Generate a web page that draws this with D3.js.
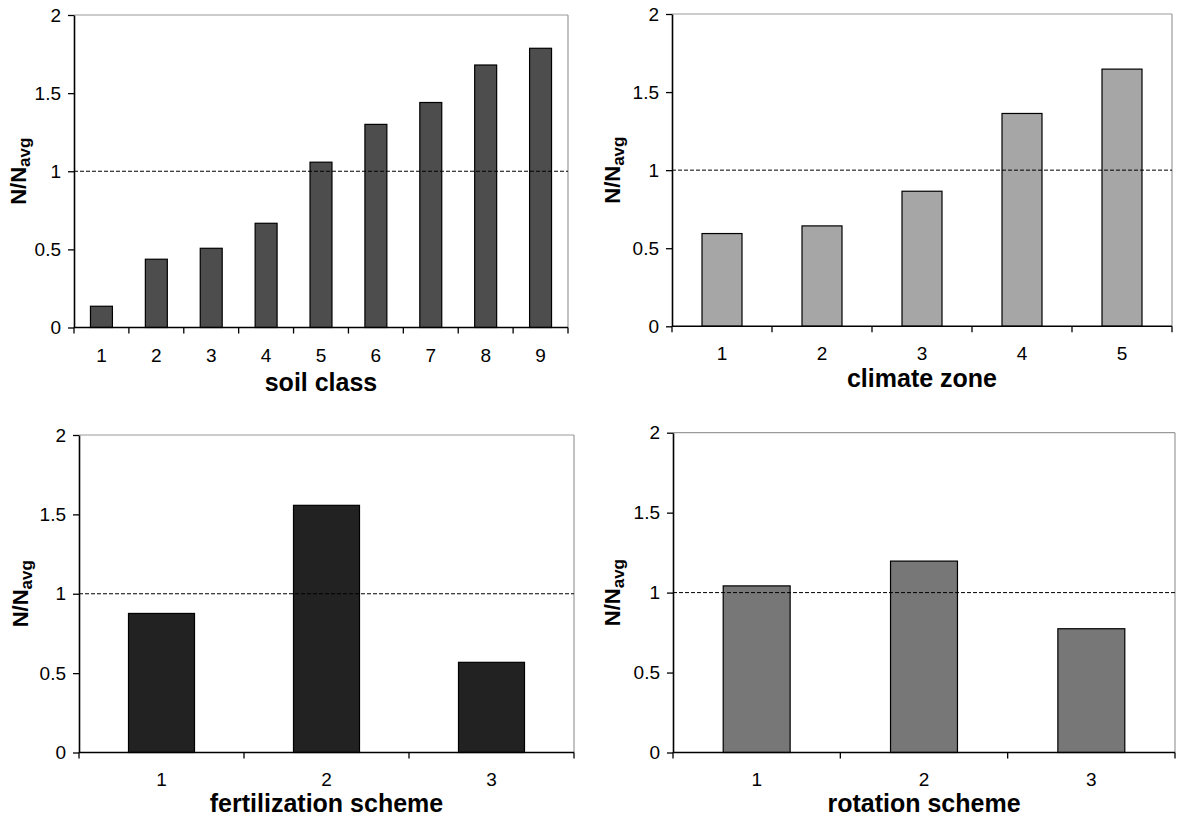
<!DOCTYPE html>
<html>
<head>
<meta charset="utf-8">
<script src="https://cdn.jsdelivr.net/npm/d3@7/dist/d3.min.js"></script>
<style>
  html, body { margin: 0; padding: 0; background: #fff; }
  svg { display: block; font-family: "Liberation Sans", Arial, sans-serif; }
</style>
</head>
<body>
<svg id="chart" width="1177" height="816"></svg>
<script>
// N/Navg by grouping variable
const soilClasses = ["1", "2", "3", "4", "5", "6", "7", "8", "9"];
const soilValues = [0.136, 0.437, 0.507, 0.667, 1.058, 1.30, 1.44, 1.68, 1.787];

const climateZones = ["1", "2", "3", "4", "5"];
const climateValues = [0.594, 0.643, 0.865, 1.363, 1.647];

const fertilizationSchemes = ["1", "2", "3"];
const fertilizationValues = [0.876, 1.557, 0.568];

const rotationSchemes = ["1", "2", "3"];
const rotationValues = [1.042, 1.197, 0.774];

const yTicks = [0, 0.5, 1, 1.5, 2];
const yTickLabels = ["0", "0.5", "1", "1.5", "2"];
const referenceLevel = 1;

const panels = [
  { cats: soilClasses, vals: soilValues, title: "soil class", fill: "#4d4d4d",
    x0: 74, x1: 568, yBottom: 327.5, yTop: 15, labelY: 362, titleY: 391, ytX: 26 },
  { cats: climateZones, vals: climateValues, title: "climate zone", fill: "#a6a6a6",
    x0: 672, x1: 1172, yBottom: 326.3, yTop: 14, labelY: 360, titleY: 387, ytX: 620 },
  { cats: fertilizationSchemes, vals: fertilizationValues, title: "fertilization scheme", fill: "#222222",
    x0: 79, x1: 574, yBottom: 752.5, yTop: 435, labelY: 786, titleY: 812, ytX: 28 },
  { cats: rotationSchemes, vals: rotationValues, title: "rotation scheme", fill: "#777777",
    x0: 673, x1: 1175, yBottom: 752.5, yTop: 432.7, labelY: 786, titleY: 812, ytX: 620 }
];

const svg = d3.select("#chart");

panels.forEach(p => {
  const g = svg.append("g");

  const x = d3.scaleBand()
    .domain(p.cats)
    .range([p.x0, p.x1])
    .paddingInner(0.6)
    .paddingOuter(0.3);

  const y = d3.scaleLinear()
    .domain([0, 2])
    .range([p.yBottom, p.yTop]);

  // plot frame: grey top and right edges
  g.append("line")
    .attr("x1", p.x0).attr("x2", p.x1)
    .attr("y1", y(2)).attr("y2", y(2))
    .attr("stroke", "#9a9a9a").attr("stroke-width", 1.2);
  g.append("line")
    .attr("x1", p.x1).attr("x2", p.x1)
    .attr("y1", y(2)).attr("y2", y(0))
    .attr("stroke", "#9a9a9a").attr("stroke-width", 1.2);

  // bars
  g.selectAll("rect.bar")
    .data(p.cats.map((c, i) => ({ c, v: p.vals[i] })))
    .join("rect")
    .attr("class", "bar")
    .attr("x", d => x(d.c))
    .attr("width", x.bandwidth())
    .attr("y", d => y(d.v))
    .attr("height", d => y(0) - y(d.v))
    .attr("fill", p.fill)
    .attr("stroke", "#000")
    .attr("stroke-width", 1.2);

  // average reference line
  g.append("line")
    .attr("x1", p.x0).attr("x2", p.x1)
    .attr("y1", y(referenceLevel)).attr("y2", y(referenceLevel))
    .attr("stroke", "#000").attr("stroke-width", 1)
    .attr("stroke-dasharray", "4,2");

  // y axis
  const yAxis = d3.axisLeft(y)
    .tickValues(yTicks)
    .tickFormat((d, i) => yTickLabels[i])
    .tickSize(6)
    .tickSizeOuter(0)
    .tickPadding(7);
  const ya = g.append("g")
    .attr("transform", `translate(${p.x0},0)`)
    .call(yAxis);
  ya.select(".domain").attr("stroke", "#000").attr("stroke-width", 1.6);
  ya.selectAll(".tick line").attr("stroke", "#000").attr("stroke-width", 1.3);
  ya.selectAll(".tick text")
    .attr("font-size", 19)
    .attr("font-family", "'Liberation Sans', Arial, sans-serif")
    .attr("fill", "#000");

  // x axis: line with ticks on category boundaries
  g.append("line")
    .attr("x1", p.x0).attr("x2", p.x1)
    .attr("y1", y(0)).attr("y2", y(0))
    .attr("stroke", "#000").attr("stroke-width", 1.6);
  const bounds = d3.range(p.cats.length + 1).map(i => p.x0 + i * x.step());
  g.selectAll("line.xtick")
    .data(bounds)
    .join("line")
    .attr("class", "xtick")
    .attr("x1", d => d).attr("x2", d => d)
    .attr("y1", y(0)).attr("y2", y(0) + 6)
    .attr("stroke", "#000").attr("stroke-width", 1.3);

  g.selectAll("text.xlab")
    .data(p.cats)
    .join("text")
    .attr("class", "xlab")
    .attr("x", d => x(d) + x.bandwidth() / 2)
    .attr("y", p.labelY)
    .attr("text-anchor", "middle")
    .attr("font-size", 19)
    .attr("fill", "#000")
    .text(d => d);

  // x axis title
  g.append("text")
    .attr("x", (p.x0 + p.x1) / 2)
    .attr("y", p.titleY)
    .attr("text-anchor", "middle")
    .attr("font-size", 25)
    .attr("font-weight", "bold")
    .attr("fill", "#000")
    .text(p.title);

  // y axis title N/Navg
  const yt = g.append("text")
    .attr("transform", `translate(${p.ytX},${(y(0) + y(2)) / 2}) rotate(-90)`)
    .attr("text-anchor", "middle")
    .attr("font-weight", "bold")
    .attr("fill", "#000");
  yt.append("tspan").attr("font-size", 22).text("N/N");
  yt.append("tspan").attr("font-size", 17).attr("dy", 4).text("avg");
});
</script>
</body>
</html>
